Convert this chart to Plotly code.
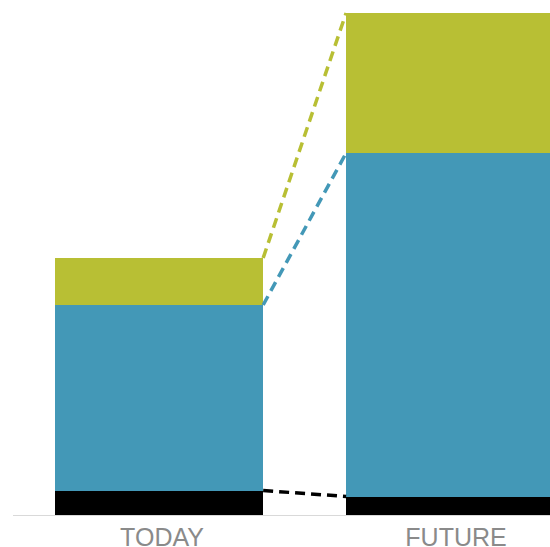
import plotly.graph_objects as go
import numpy as np

categories = ["TODAY", "FUTURE"]
black_vals = [4.9, 3.7]
blue_vals = [37.1, 68.7]
green_vals = [9.4, 28.0]

colors = {"black": "#000000", "blue": "#4398B7", "green": "#B8BF34"}
bar_w = 0.715
xpos = [0, 1]

fig = go.Figure()
for name, vals in [("black", black_vals), ("blue", blue_vals), ("green", green_vals)]:
    fig.add_trace(go.Bar(x=xpos, y=vals, width=bar_w, marker=dict(color=colors[name], line=dict(width=0)),
                         showlegend=False, hoverinfo="skip"))

cum = np.cumsum(np.array([black_vals, blue_vals, green_vals]), axis=0)
for i, name in enumerate(["black", "blue", "green"]):
    fig.add_trace(go.Scatter(x=[xpos[0] + bar_w / 2, xpos[1] - bar_w / 2], y=[cum[i][0], cum[i][1]],
                             mode="lines", line=dict(color=colors[name], width=3.5, dash="10px,6px"),
                             showlegend=False, hoverinfo="skip", cliponaxis=False))

fig.update_layout(
    width=550, height=547, barmode="stack",
    margin=dict(l=13, r=0, t=0, b=32, autoexpand=False),
    paper_bgcolor="white", plot_bgcolor="white",
    xaxis=dict(range=[-0.502, 1.343], tickvals=[0.01, 1.02], ticktext=categories, showgrid=False,
               zeroline=False, showline=True, linecolor="#d9d9d9", linewidth=1, ticks="",
               automargin=False,
               tickfont=dict(family="Liberation Sans, Arial", size=25, color="#8a8a8a")),
    yaxis=dict(range=[0, 103], visible=False, showgrid=False, zeroline=False),
)
fig.write_html("out.html", config={"displayModeBar": False},
               post_script="document.body.style.margin='0';document.body.style.overflow='hidden';")
